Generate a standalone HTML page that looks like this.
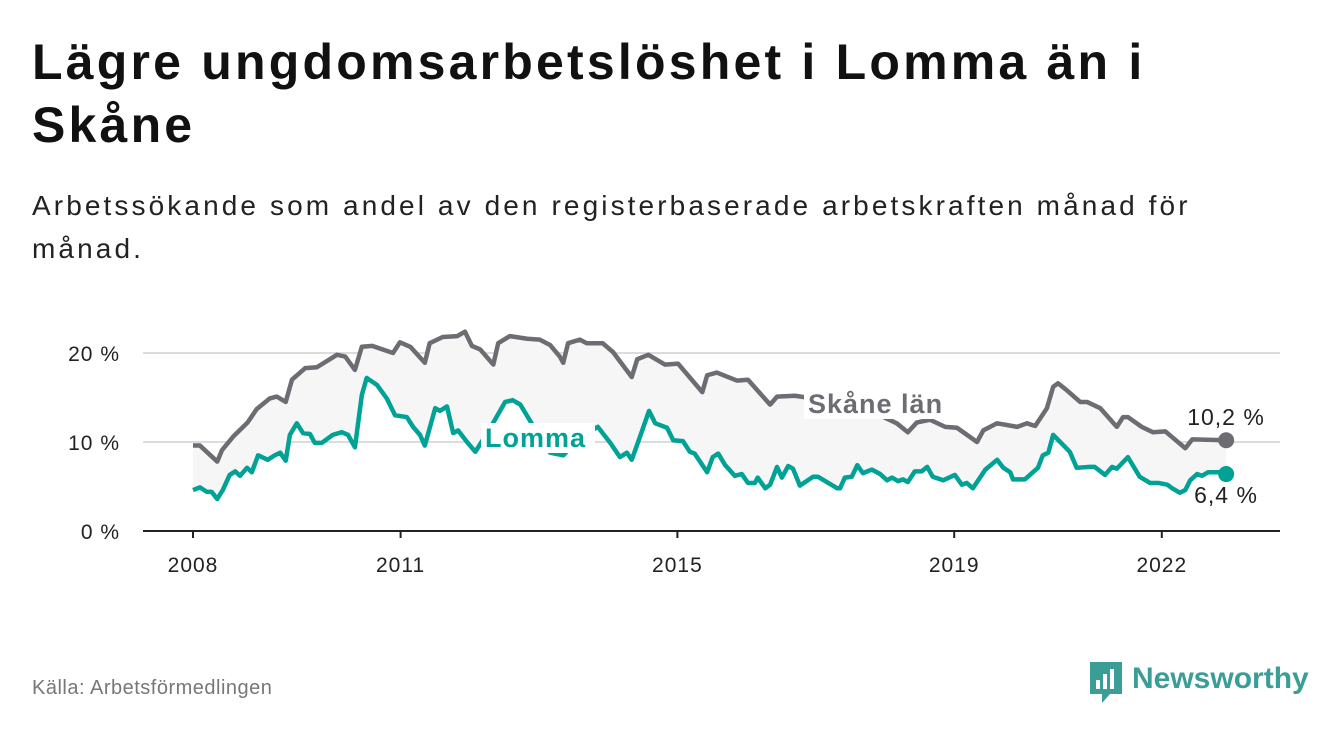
<!DOCTYPE html>
<html><head><meta charset="utf-8"><style>
body{margin:0;width:1340px;height:734px;background:#fff;font-family:"Liberation Sans",sans-serif;overflow:hidden;position:relative}
h1{position:absolute;left:32px;top:31px;margin:0;font-size:50px;line-height:63px;font-weight:bold;color:#111;letter-spacing:3.2px;white-space:nowrap}
.sub{position:absolute;left:32px;top:184px;font-size:28px;line-height:43px;color:#222;letter-spacing:3.1px;white-space:nowrap}
.src{position:absolute;left:32px;top:677px;font-size:20px;color:#777;letter-spacing:0.5px}
.logo{position:absolute;left:1088px;top:660px}
</style></head><body>
<h1>Lägre ungdomsarbetslöshet i Lomma än i<br>Skåne</h1>
<div class="sub">Arbetssökande som andel av den registerbaserade arbetskraften månad för<br>månad.</div>
<svg id="chart" width="1340" height="734" style="position:absolute;left:0;top:0"></svg>
<div class="src">Källa: Arbetsförmedlingen</div>
<div class="logo">
<svg width="230" height="46"><path d="M2 2h32v32h-12l-8 9v-9h-12z" fill="#3a9e97"/><rect x="8" y="20" width="4" height="9" fill="#fff"/><rect x="15" y="14" width="4" height="15" fill="#fff"/><rect x="22" y="9" width="4" height="20" fill="#fff"/><text x="44" y="28" font-size="30" font-weight="bold" fill="#3a9e97" font-family="Liberation Sans, sans-serif">Newsworthy</text></svg></div>
<script>
const skaneT=[0,.10,.35,.42,.58,.79,.92,1.11,1.21,1.34,1.43,1.62,1.79,2.08,2.20,2.34,2.44,2.59,2.89,2.99,3.14,3.35,3.42,3.61,3.82,3.93,4.03,4.15,4.34,4.41,4.58,4.83,5.01,5.16,5.30,5.35,5.42,5.59,5.69,5.92,6.07,6.34,6.42,6.58,6.82,7.01,7.36,7.43,7.57,7.86,8.02,8.34,8.44,8.70,9.2,9.71,10.17,10.33,10.46,10.65,10.87,11.04,11.33,11.42,11.62,11.91,12.05,12.17,12.34,12.43,12.50,12.63,12.82,12.92,13.11,13.35,13.44,13.51,13.71,13.87,14.05,14.34,14.44,14.93];
const skaneV=[9.6,9.6,7.8,9.1,10.6,12.2,13.7,14.9,15.1,14.5,17.0,18.3,18.4,19.8,19.6,18.1,20.7,20.8,20.0,21.2,20.7,18.9,21.1,21.8,21.9,22.4,20.8,20.4,18.7,21.1,21.9,21.6,21.5,20.9,19.6,18.9,21.1,21.5,21.1,21.1,20.1,17.3,19.3,19.8,18.7,18.8,15.6,17.5,17.8,16.9,17.0,14.2,15.1,15.2,14.6,13.8,12.1,11.1,12.2,12.5,11.7,11.6,10.0,11.3,12.1,11.7,12.1,11.8,13.8,16.2,16.6,15.8,14.5,14.5,13.8,11.7,12.8,12.8,11.7,11.1,11.2,9.3,10.3,10.2];
const lommaT=[0,.10,.20,.27,.35,.43,.53,.61,.68,.78,.85,.94,1.08,1.18,1.26,1.34,1.40,1.50,1.59,1.69,1.76,1.86,2.02,2.15,2.24,2.34,2.44,2.51,2.66,2.80,2.92,3.09,3.18,3.28,3.35,3.50,3.57,3.67,3.76,3.83,3.96,4.08,4.29,4.51,4.62,4.73,4.94,5.16,5.35,5.59,5.85,6.03,6.17,6.27,6.34,6.46,6.59,6.68,6.85,6.94,7.08,7.18,7.25,7.43,7.51,7.59,7.69,7.83,7.93,8.02,8.12,8.16,8.27,8.34,8.44,8.51,8.60,8.67,8.77,8.96,9.03,9.31,9.35,9.42,9.52,9.60,9.68,9.81,9.93,10.03,10.10,10.19,10.26,10.33,10.43,10.53,10.61,10.69,10.84,11.01,11.11,11.18,11.27,11.45,11.62,11.71,11.81,11.85,12.02,12.21,12.28,12.36,12.43,12.57,12.67,12.77,12.96,13.03,13.18,13.28,13.35,13.51,13.68,13.83,13.95,14.08,14.15,14.26,14.34,14.41,14.51,14.58,14.67,14.80,14.88,14.93];
const lommaV=[4.6,4.9,4.4,4.4,3.6,4.6,6.3,6.7,6.2,7.1,6.6,8.5,8.0,8.5,8.8,7.9,10.8,12.1,11.0,10.9,9.9,9.9,10.8,11.1,10.8,9.4,15.3,17.2,16.4,14.9,13.0,12.8,11.7,10.8,9.6,13.8,13.5,14.0,11.0,11.3,10.0,8.9,11.5,14.5,14.7,14.2,11.5,8.8,8.5,10.5,11.7,9.9,8.3,8.8,8.0,10.6,13.5,12.1,11.6,10.2,10.1,8.9,8.7,6.6,8.3,8.7,7.4,6.2,6.4,5.4,5.4,6.0,4.8,5.2,7.2,6.0,7.3,7.0,5.1,6.1,6.1,4.8,4.8,6.0,6.1,7.4,6.5,6.9,6.4,5.7,6.0,5.6,5.8,5.5,6.7,6.7,7.2,6.1,5.7,6.3,5.2,5.4,4.8,6.9,8.0,7.1,6.6,5.8,5.8,7.1,8.5,8.8,10.8,9.7,8.9,7.1,7.2,7.2,6.3,7.2,7.0,8.3,6.1,5.4,5.4,5.2,4.8,4.3,4.6,5.7,6.4,6.2,6.6,6.6,6.6,6.4];
const yTicks=[0,10,20];
const yTickLabels=["0 %","10 %","20 %"];
const xTicks=[0,3,7,11,14];
const xTickLabels=["2008","2011","2015","2019","2022"];
const NS="http://www.w3.org/2000/svg";
const svg=document.getElementById('chart');
const X=t=>193+t*69.2, Y=v=>531-v*8.9;
function mk(tag,attrs,txt){const e=document.createElementNS(NS,tag);for(const k in attrs)e.setAttribute(k,attrs[k]);if(txt!==undefined)e.textContent=txt;svg.appendChild(e);return e;}
yTicks.forEach((v,i)=>{
 if(v>0){const g=mk('line',{x1:143,x2:1280,y1:Y(v),y2:Y(v),stroke:'#dcdcdc','stroke-width':2});
 
 }
 const t=mk('text',{x:120,y:Y(v)+8,'text-anchor':'end','font-size':21,'letter-spacing':1,fill:'#222'},yTickLabels[i]);
 
 
});
let pts=skaneT.map((t,i)=>X(t)+','+Y(skaneV[i]));
for(let i=lommaT.length-1;i>=0;i--)pts.push(X(lommaT[i])+','+Y(lommaV[i]));
const band=mk('polygon',{points:pts.join(' '),fill:'#f6f6f6'});


const ax=mk('line',{x1:143,x2:1280,y1:531,y2:531,stroke:'#222','stroke-width':2});


xTicks.forEach((t,i)=>{
 mk('line',{x1:X(t),x2:X(t),y1:531,y2:538,stroke:'#222','stroke-width':2});
 const l=mk('text',{x:X(t),y:572,'text-anchor':'middle','font-size':21,'letter-spacing':1,fill:'#222'},xTickLabels[i]);
 
 
});
const sk=mk('polyline',{points:skaneT.map((t,i)=>X(t)+','+Y(skaneV[i])).join(' '),fill:'none',stroke:'#6d6c72','stroke-width':4.5,'stroke-linejoin':'round'});


const lo=mk('polyline',{points:lommaT.map((t,i)=>X(t)+','+Y(lommaV[i])).join(' '),fill:'none',stroke:'#00a295','stroke-width':4.5,'stroke-linejoin':'round'});


const d1=mk('circle',{cx:X(skaneT[skaneT.length-1]),cy:Y(skaneV[skaneV.length-1]),r:8,fill:'#6d6c72'});


const d2=mk('circle',{cx:X(lommaT[lommaT.length-1]),cy:Y(lommaV[lommaV.length-1]),r:8,fill:'#00a295'});


function label(x,y,txt,col,name,w){
 mk('rect',{x:x-4,y:y-24,width:w,height:30,fill:'#fff'});
 const t=mk('text',{x:x,y:y,'font-size':27,'font-weight':'bold','letter-spacing':1,fill:col},txt);
 
 
}
label(808,413,'Skåne län','#6d6c72','skane-label',150);
label(485,447,'Lomma','#00a295','lomma-label',114);
const v1=mk('text',{x:1226,y:425,'text-anchor':'middle','font-size':23,'letter-spacing':1,fill:'#222'},'10,2 %');


const v2=mk('text',{x:1226,y:503,'text-anchor':'middle','font-size':23,'letter-spacing':1,fill:'#222'},'6,4 %');


</script>
</body></html>
